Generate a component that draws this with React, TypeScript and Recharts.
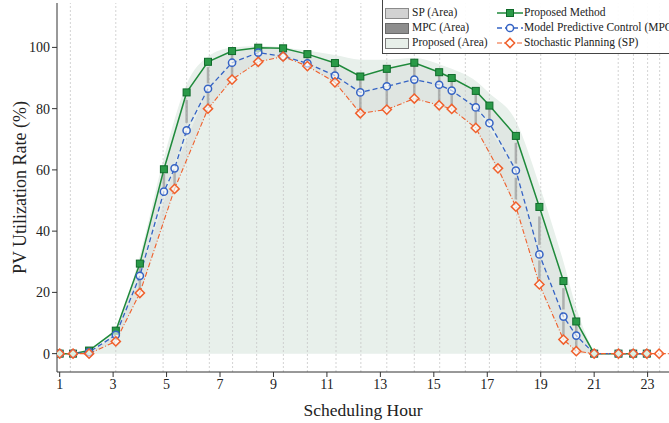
import {
  Area,
  ComposedChart,
  ErrorBar,
  Line,
  ReferenceLine,
  Scatter,
  XAxis,
  YAxis
} from "recharts";

// sample hours (irregular)
const hours = [1.0, 1.5, 2.1, 3.1, 4.0, 4.9, 5.3, 5.75, 6.55, 7.45, 8.43, 9.36, 10.27, 11.3, 12.25, 13.24, 14.27, 15.2, 15.67, 16.57, 17.08, 17.4, 18.07, 18.95, 19.85, 20.33, 21.0, 21.91, 22.46, 22.97, 23.43, 24.0];
const proposed = [0, 0, 1.0, 7.5, 29.4, 60.2, null, 85.3, 95.3, 98.8, 99.9, 99.7, 97.8, 94.9, 90.5, 93.0, 95.0, 91.9, 90.0, 85.8, 81.0, null, 71.1, 47.9, 23.7, 10.5, 0, 0, 0, 0, null, null];
const mpc = [0, 0, 0.5, 6.1, 25.4, 52.9, 60.5, 72.9, 86.5, 95.0, 98.3, 97.1, 94.8, 90.8, 85.3, 87.3, 89.5, 87.8, 85.9, 80.4, 75.3, null, 59.8, 32.4, 12.1, 5.9, 0, 0, 0, 0, null, null];
const sp = [0, 0, 0, 4.0, 19.8, null, 53.8, null, 80.0, 89.5, 95.3, 97.0, 93.9, 88.6, 78.5, 79.7, 83.3, 81.1, 79.9, 73.7, null, 60.5, 48.0, 22.6, 4.6, 0.8, 0, 0, 0, 0, 0, 0];
// top edge of the light "Proposed (Area)" fill
const proposedFill = [0, 0, 1.0, 8, 32, 64, null, 88, 97, 100, 100.5, 100, 99, 97.5, 96, 96, 96.5, 94.5, 93, 89, 85, null, 76, 55, 30, 15, 0, null, null, null, null, null];

const gridHours = [1.4, 3.1, 4.87, 5.75, 6.6, 7.47, 8.37, 9.37, 10.27, 11.34, 12.27, 13.24, 14.27, 15.22, 16.18, 17.08, 18.1, 19.0, 20.3, 21.9, 22.47, 23.0, 23.45];
const xTicks = [1, 3, 5, 7, 9, 11, 13, 15, 17, 19, 21, 23];
const yTicks = [0, 20, 40, 60, 80, 100];

const GREEN = "#1f8a3b";
const BLUE = "#3563c4";
const ORANGE = "#f0602c";

const rows = hours.map((h, i) => ({
  hour: h,
  proposed: proposed[i],
  mpc: mpc[i],
  sp: sp[i],
  fill: proposedFill[i],
  spBand: sp[i] != null && mpc[i] != null ? [sp[i], mpc[i]] : null,
  mpcBand: mpc[i] != null && proposed[i] != null ? [mpc[i], proposed[i]] : null
}));

// grey arrows drawn in the middle part of each gap
const spArrows = rows
  .filter((r) => r.sp != null && r.mpc != null && (r.mpc as number) - (r.sp as number) > 2)
  .map((r) => {
    const gap = (r.mpc as number) - (r.sp as number);
    return { hour: r.hour, y: (r.sp as number) + gap * 0.2, err: [0, gap * 0.6] };
  });
const mpcArrows = rows
  .filter((r) => r.mpc != null && r.proposed != null && (r.proposed as number) - (r.mpc as number) > 2)
  .map((r) => {
    const gap = (r.proposed as number) - (r.mpc as number);
    return { hour: r.hour, y: (r.mpc as number) + gap * 0.2, err: [0, gap * 0.6] };
  });

const SquareDot = (props: any) => {
  const { cx, cy, index, value } = props;
  if (cx == null || cy == null || value == null) return <g key={index} />;
  return <rect key={index} x={cx - 3.5} y={cy - 3.5} width={7} height={7} fill="#2a9a48" stroke="#0f6a2a" strokeWidth={1} />;
};

const CircleDot = (props: any) => {
  const { cx, cy, index, value } = props;
  if (cx == null || cy == null || value == null) return <g key={index} />;
  return <circle key={index} cx={cx} cy={cy} r={3.6} fill="#fff" fillOpacity={0.6} stroke={BLUE} strokeWidth={1.5} />;
};

const DiamondDot = (props: any) => {
  const { cx, cy, index, value } = props;
  if (cx == null || cy == null || value == null) return <g key={index} />;
  const s = 4.6;
  return (
    <path
      key={index}
      d={`M${cx},${cy - s}L${cx + s},${cy}L${cx},${cy + s}L${cx - s},${cy}Z`}
      fill="#fff"
      fillOpacity={0.6}
      stroke={ORANGE}
      strokeWidth={1.5}
    />
  );
};

const NoShape = () => <g />;

function LegendBox() {
  const rowY = [13, 28, 43];
  const text: React.CSSProperties = { position: "absolute", fontSize: 11.5, lineHeight: "13px", color: "#222", whiteSpace: "nowrap" };
  const patch = (top: number, fill: string, stroke: string) => (
    <div style={{ position: "absolute", left: 2, top: top - 5, width: 24, height: 11, background: fill, border: `1px solid ${stroke}`, boxSizing: "border-box" }} />
  );
  return (
    <div
      style={{
        position: "absolute",
        left: 382,
        top: -1,
        width: 320,
        height: 55,
        border: "1px solid #444",
        background: "rgba(255,255,255,0.92)",
        boxSizing: "border-box"
      }}
    >
      {patch(rowY[0], "#d2d2d2", "#8a8a8a")}
      {patch(rowY[1], "#8e8e8e", "#6a6a6a")}
      {patch(rowY[2], "#e7efe9", "#7a7a7a")}
      <span style={{ ...text, left: 29, top: rowY[0] - 7 }}>SP (Area)</span>
      <span style={{ ...text, left: 29, top: rowY[1] - 7 }}>MPC (Area)</span>
      <span style={{ ...text, left: 29, top: rowY[2] - 7 }}>Proposed (Area)</span>

      <svg style={{ position: "absolute", left: 114, top: rowY[0] - 6 }} width={26} height={12}>
        <line x1={0} y1={6} x2={26} y2={6} stroke={GREEN} strokeWidth={1.5} />
        <rect x={9.5} y={2.5} width={7} height={7} fill="#2a9a48" stroke="#0f6a2a" />
      </svg>
      <svg style={{ position: "absolute", left: 114, top: rowY[1] - 6 }} width={26} height={12}>
        <line x1={0} y1={6} x2={26} y2={6} stroke={BLUE} strokeWidth={1.5} strokeDasharray="5 3" />
        <circle cx={13} cy={6} r={3.6} fill="#fff" stroke={BLUE} strokeWidth={1.5} />
      </svg>
      <svg style={{ position: "absolute", left: 114, top: rowY[2] - 6 }} width={26} height={12}>
        <line x1={0} y1={6} x2={26} y2={6} stroke={ORANGE} strokeWidth={1.2} strokeDasharray="5 2 1 2" />
        <path d="M13,1.4L17.6,6L13,10.6L8.4,6Z" fill="#fff" stroke={ORANGE} strokeWidth={1.5} />
      </svg>
      <span style={{ ...text, left: 141, top: rowY[0] - 7 }}>Proposed Method</span>
      <span style={{ ...text, left: 141, top: rowY[1] - 7 }}>Model Predictive Control (MPC)</span>
      <span style={{ ...text, left: 141, top: rowY[2] - 7 }}>Stochastic Planning (SP)</span>
    </div>
  );
}

export default function App() {
  return (
    <div
      style={{
        position: "absolute",
        left: 0,
        top: 0,
        width: 669,
        height: 423,
        overflow: "hidden",
        background: "#fff",
        fontFamily: "'Liberation Serif', 'Times New Roman', serif"
      }}
    >
      <ComposedChart width={669} height={423} data={rows} margin={{ top: 3, right: 0, bottom: 0, left: 0 }}>
        <XAxis
          dataKey="hour"
          type="number"
          domain={[0.9, 23.8]}
          allowDataOverflow
          ticks={xTicks}
          interval={0}
          height={51}
          tickSize={5}
          stroke="#333"
          tick={{ fontSize: 14, fill: "#222", fontFamily: "Liberation Serif" }}
          label={{ value: "Scheduling Hour", position: "insideBottom", offset: 7, style: { fontSize: 17.5, fill: "#222", fontFamily: "Liberation Serif" } }}
        />
        <YAxis
          type="number"
          domain={[-6, 114.5]}
          allowDataOverflow
          ticks={yTicks}
          width={57}
          tickSize={5}
          stroke="#333"
          tick={{ fontSize: 14, fill: "#222", fontFamily: "Liberation Serif" }}
          label={{
            value: "PV Utilization Rate (%)",
            angle: -90,
            position: "insideLeft",
            offset: 20,
            style: { textAnchor: "middle", fontSize: 18, fill: "#222", fontFamily: "Liberation Serif" }
          }}
        />

        <Area
          dataKey="fill"
          type="monotone"
          connectNulls
          stroke="none"
          fill="#e8f0eb"
          fillOpacity={1}
          isAnimationActive={false}
        />
        {gridHours.map((h) => (
          <ReferenceLine key={h} x={h} stroke="#c8c8c8" strokeWidth={0.8} strokeDasharray="2 2" />
        ))}
        <Area
          dataKey="spBand"
          type="linear"
          connectNulls
          stroke="none"
          fill="#bdbdbd"
          fillOpacity={0.22}
          isAnimationActive={false}
        />
        <Area
          dataKey="mpcBand"
          type="linear"
          connectNulls
          stroke="none"
          fill="#9a9a9a"
          fillOpacity={0.1}
          isAnimationActive={false}
        />
        <Scatter data={spArrows} dataKey="y" shape={NoShape} isAnimationActive={false}>
          <ErrorBar dataKey="err" direction="y" width={0} stroke="#8f8f8f" strokeWidth={2.5} strokeOpacity={0.6} />
        </Scatter>
        <Scatter data={mpcArrows} dataKey="y" shape={NoShape} isAnimationActive={false}>
          <ErrorBar dataKey="err" direction="y" width={0} stroke="#8a8a8a" strokeWidth={2.5} strokeOpacity={0.6} />
        </Scatter>

        <Line
          dataKey="proposed"
          type="linear"
          connectNulls
          stroke={GREEN}
          strokeWidth={1.5}
          dot={SquareDot}
          activeDot={false}
          isAnimationActive={false}
        />
        <Line
          dataKey="mpc"
          type="linear"
          connectNulls
          stroke={BLUE}
          strokeWidth={1.3}
          strokeDasharray="5 3"
          dot={CircleDot}
          activeDot={false}
          isAnimationActive={false}
        />
        <Line
          dataKey="sp"
          type="linear"
          connectNulls
          stroke={ORANGE}
          strokeWidth={1.1}
          strokeDasharray="5 2 1 2"
          dot={DiamondDot}
          activeDot={false}
          isAnimationActive={false}
        />
      </ComposedChart>
      <LegendBox />
    </div>
  );
}
